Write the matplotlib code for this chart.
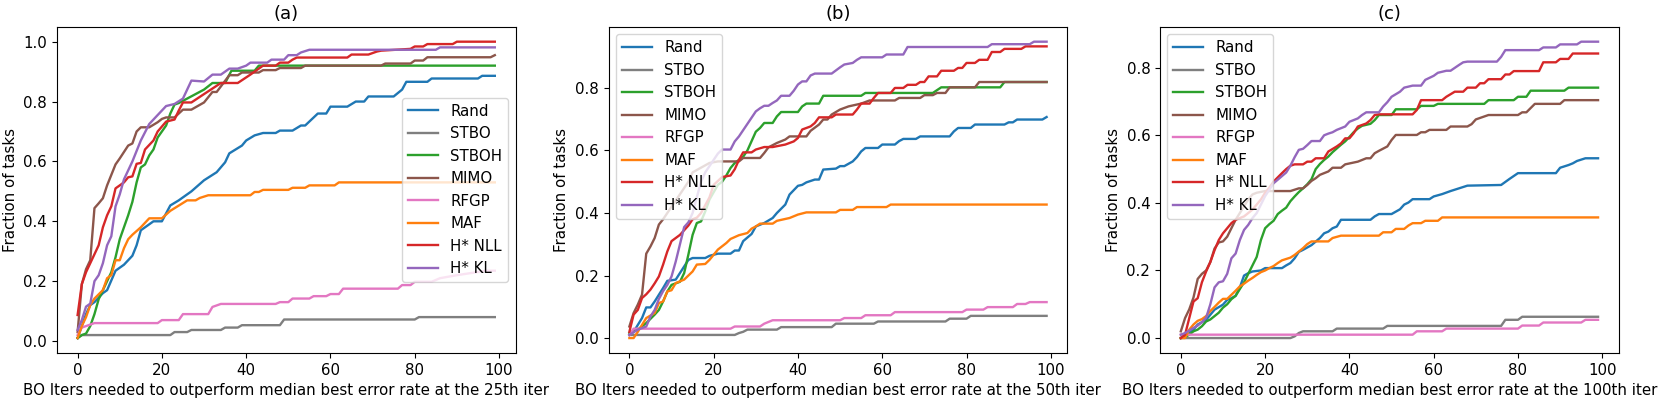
import matplotlib
matplotlib.use("Agg")
import matplotlib.pyplot as plt

plt.rcParams["font.size"] = 10.8

methods = ["Rand", "STBO", "STBOH", "MIMO", "RFGP", "MAF", "H* NLL", "H* KL"]
colors = ["tab:blue", "tab:gray", "tab:green", "tab:brown", "tab:pink",
          "tab:orange", "tab:red", "tab:purple"]
titles = ["(a)", "(b)", "(c)"]
xlabels = ["BO Iters needed to outperform median best error rate at the 25th iter",
           "BO Iters needed to outperform median best error rate at the 50th iter",
           "BO Iters needed to outperform median best error rate at the 100th iter"]

# (iteration, fraction of tasks) breakpoints
# --- panel (a): 25th iter ---
a_rand = [(0, 0.01), (1, 0.05), (2, 0.09), (3, 0.12), (4, 0.13), (6, 0.16), (7, 0.17), (9, 0.235),
          (11, 0.255), (12, 0.27), (13, 0.285), (14, 0.32), (15, 0.37), (17, 0.39), (18, 0.40),
          (20, 0.40), (22, 0.453), (24, 0.47), (27, 0.50), (30, 0.537), (33, 0.564), (35, 0.597),
          (36, 0.627), (39, 0.653), (40, 0.67), (42, 0.687), (44, 0.695), (47, 0.695), (48, 0.703),
          (51, 0.703), (53, 0.72), (54, 0.72), (57, 0.76), (59, 0.76), (60, 0.783), (64, 0.783),
          (66, 0.80), (68, 0.80), (69, 0.817), (75, 0.817), (77, 0.84), (78, 0.866), (83, 0.866),
          (84, 0.877), (95, 0.877), (96, 0.886), (99, 0.886)]
a_stbo = [(0, 0.01), (1, 0.02), (22, 0.02), (23, 0.03), (26, 0.03), (27, 0.037), (34, 0.037),
          (35, 0.045), (38, 0.045), (39, 0.053), (48, 0.053), (49, 0.072), (80, 0.072), (81, 0.08),
          (99, 0.08)]
a_stboh = [(0, 0.01), (1, 0.02), (2, 0.025), (3, 0.05), (4, 0.09), (5, 0.14), (6, 0.17), (7, 0.20),
           (8, 0.23), (9, 0.28), (10, 0.34), (11, 0.38), (12, 0.42), (13, 0.465), (14, 0.53),
           (15, 0.58), (16, 0.59), (17, 0.62), (18, 0.64), (19, 0.68), (20, 0.70), (21, 0.72),
           (22, 0.76), (23, 0.79), (24, 0.795), (26, 0.81), (28, 0.825), (30, 0.84), (32, 0.862),
           (35, 0.862), (36.5, 0.903), (42, 0.903), (43, 0.92), (99, 0.92)]
a_mimo = [(0, 0.03), (1, 0.19), (2, 0.24), (3, 0.27), (4, 0.444), (5, 0.46), (6, 0.477), (7, 0.52),
          (9, 0.59), (10, 0.61), (12, 0.653), (13, 0.66), (14, 0.70), (15, 0.714), (17, 0.714),
          (19, 0.731), (20, 0.742), (21, 0.747), (23, 0.747), (25, 0.773), (27, 0.773), (30, 0.797),
          (32, 0.832), (33, 0.832), (36, 0.888), (38, 0.888), (39, 0.897), (43, 0.897), (44, 0.905),
          (47, 0.905), (48, 0.912), (53, 0.912), (54, 0.92), (72, 0.92), (73, 0.927), (79, 0.927),
          (80, 0.937), (82, 0.937), (83, 0.948), (98, 0.948), (99, 0.955)]
a_rfgp = [(0, 0.02), (1, 0.045), (2, 0.05), (3, 0.055), (4, 0.06), (19, 0.06), (20, 0.07), (24, 0.07),
          (25, 0.09), (31, 0.09), (32, 0.114), (34, 0.124), (47, 0.124), (48, 0.13), (50, 0.13),
          (51, 0.142), (55, 0.142), (56, 0.15), (59, 0.15), (60, 0.157), (62, 0.157), (63, 0.175),
          (76, 0.175), (77, 0.187), (79, 0.187), (80, 0.198), (84, 0.198), (86, 0.21), (90, 0.22),
          (97, 0.235), (99, 0.235)]
a_maf = [(0, 0.01), (1, 0.05), (2, 0.08), (3, 0.12), (4, 0.142), (6, 0.17), (7, 0.21), (8, 0.22),
         (9, 0.27), (10, 0.27), (11, 0.31), (12, 0.34), (13, 0.355), (15, 0.38), (17, 0.41),
         (20, 0.41), (22, 0.435), (26, 0.47), (28, 0.47), (29, 0.478), (31, 0.487), (41, 0.487),
         (42, 0.498), (43, 0.498), (44, 0.505), (50, 0.505), (51, 0.512), (54, 0.512), (55, 0.52),
         (61, 0.52), (62, 0.53), (99, 0.53)]
a_nll = [(0, 0.087), (1, 0.19), (2, 0.23), (3, 0.26), (4, 0.29), (5, 0.32), (6, 0.38), (7, 0.42),
         (8, 0.45), (9, 0.51), (11, 0.53), (12, 0.547), (13, 0.55), (14, 0.592), (15, 0.595),
         (16, 0.64), (18, 0.67), (19, 0.70), (21, 0.733), (23, 0.74), (24, 0.77), (25, 0.797),
         (27, 0.797), (30, 0.825), (34, 0.862), (38, 0.862), (41, 0.89), (42, 0.90), (44, 0.92),
         (47, 0.92), (48, 0.93), (50, 0.93), (51, 0.94), (52, 0.947), (64, 0.947), (65, 0.957),
         (69, 0.957), (71, 0.967), (72, 0.97), (79, 0.976), (80, 0.984), (82, 0.984), (83, 0.992),
         (89, 0.992), (90, 1.0), (99, 1.0)]
a_kl = [(0, 0.037), (1, 0.07), (2, 0.115), (3, 0.125), (4, 0.2), (5, 0.22), (6, 0.26), (7, 0.32),
        (8, 0.35), (9, 0.45), (10, 0.49), (11, 0.54), (13, 0.60), (15, 0.67), (17, 0.725),
        (19, 0.755), (21, 0.785), (23, 0.792), (25, 0.81), (26, 0.84), (27, 0.87), (30, 0.867),
        (32, 0.89), (34, 0.89), (36, 0.91), (38, 0.91), (40, 0.92), (41, 0.93), (45, 0.93),
        (46, 0.94), (49, 0.94), (50, 0.955), (52, 0.955), (53, 0.964), (55, 0.973), (85, 0.973),
        (86, 0.981), (99, 0.981)]

# --- panel (b): 50th iter ---
b_rand = [(0, 0.01), (1, 0.02), (3, 0.064), (4, 0.098), (5, 0.098), (6, 0.117), (8, 0.16), (9, 0.183),
          (11, 0.187), (12, 0.208), (14, 0.25), (15, 0.256), (18, 0.256), (19, 0.263), (21, 0.27),
          (24, 0.27), (25, 0.28), (26, 0.28), (27, 0.31), (29, 0.333), (30, 0.357), (32, 0.368),
          (34, 0.384), (35, 0.40), (37, 0.427), (38, 0.459), (40, 0.487), (41, 0.49), (42, 0.498),
          (44, 0.507), (45, 0.507), (46, 0.539), (49, 0.542), (50, 0.55), (51, 0.55), (53, 0.565),
          (54, 0.579), (55, 0.597), (56, 0.608), (59, 0.608), (60, 0.619), (63, 0.619), (64, 0.63),
          (65, 0.637), (68, 0.637), (69, 0.645), (76, 0.645), (77, 0.661), (78, 0.672), (81, 0.672),
          (82, 0.683), (89, 0.683), (90, 0.69), (91, 0.69), (92, 0.699), (98, 0.699), (99, 0.707)]
b_stbo = [(0, 0.01), (25, 0.01), (26, 0.016), (27, 0.02), (28, 0.027), (35, 0.027), (36, 0.035),
          (48, 0.035), (49, 0.046), (58, 0.046), (59, 0.053), (75, 0.053), (76, 0.062), (80, 0.062),
          (81, 0.071), (99, 0.071)]
b_stboh = [(0, 0.016), (2, 0.027), (4, 0.048), (6, 0.075), (7, 0.09), (8, 0.117), (9, 0.149),
           (10, 0.17), (12, 0.18), (13, 0.208), (14, 0.267), (15, 0.33), (16, 0.368), (17, 0.373),
           (18, 0.405), (19, 0.443), (21, 0.49), (22, 0.50), (23, 0.52), (24, 0.544), (25, 0.56),
           (26, 0.57), (27, 0.58), (28, 0.60), (29, 0.63), (30, 0.66), (31, 0.672), (32, 0.688),
           (34, 0.688), (35, 0.709), (36, 0.723), (40, 0.723), (41, 0.741), (42, 0.75), (45, 0.75),
           (46, 0.775), (55, 0.775), (56, 0.784), (72, 0.784), (74, 0.802), (88, 0.802), (89, 0.819),
           (99, 0.819)]
b_mimo = [(0, 0.037), (1, 0.08), (2, 0.107), (3, 0.139), (4, 0.27), (5, 0.293), (6, 0.32), (7, 0.363),
          (8, 0.38), (9, 0.40), (10, 0.42), (12, 0.46), (14, 0.50), (15, 0.53), (17, 0.545), (19, 0.56),
          (21, 0.565), (26, 0.565), (27, 0.576), (31, 0.576), (32, 0.592), (33, 0.61), (35, 0.624),
          (37, 0.635), (38, 0.645), (42, 0.645), (43, 0.663), (45, 0.683), (46, 0.699), (47, 0.699),
          (48, 0.715), (50, 0.731), (52, 0.741), (55, 0.75), (57, 0.76), (63, 0.76), (64, 0.768),
          (69, 0.768), (70, 0.777), (72, 0.777), (73, 0.784), (75, 0.784), (76, 0.802), (82, 0.802),
          (83, 0.819), (99, 0.819)]
b_rfgp = [(0, 0.01), (1, 0.03), (24, 0.03), (25, 0.037), (31, 0.037), (32, 0.046), (34, 0.057),
          (50, 0.057), (51, 0.064), (55, 0.064), (56, 0.073), (62, 0.073), (63, 0.083), (79, 0.083),
          (80, 0.091), (84, 0.091), (85, 0.099), (91, 0.099), (92, 0.109), (94, 0.109), (95, 0.115),
          (99, 0.115)]
b_maf = [(0, 0.0), (1, 0.0), (2, 0.02), (4, 0.064), (5, 0.072), (6, 0.08), (7, 0.112), (8, 0.117),
         (9, 0.149), (10, 0.153), (11, 0.176), (13, 0.187), (15, 0.213), (16, 0.235), (18, 0.237),
         (19, 0.25), (21, 0.283), (23, 0.304), (24, 0.317), (26, 0.329), (28, 0.336), (29, 0.35),
         (30, 0.357), (31, 0.366), (34, 0.366), (35, 0.375), (38, 0.384), (40, 0.395), (42, 0.402),
         (49, 0.402), (50, 0.41), (53, 0.41), (54, 0.419), (61, 0.419), (62, 0.427), (99, 0.427)]
b_nll = [(0, 0.02), (1, 0.075), (2, 0.09), (3, 0.128), (4, 0.14), (5, 0.155), (6, 0.175), (7, 0.197),
         (8, 0.235), (9, 0.277), (10, 0.31), (11, 0.32), (12, 0.33), (13, 0.345), (14, 0.36),
         (15, 0.38), (16, 0.385), (17, 0.40), (19, 0.45), (20, 0.49), (22, 0.515), (24, 0.52),
         (25, 0.54), (26, 0.57), (27, 0.594), (29, 0.594), (30, 0.603), (32, 0.611), (34, 0.611),
         (37, 0.619), (39, 0.629), (40, 0.64), (41, 0.667), (43, 0.677), (44, 0.688), (45, 0.706),
         (48, 0.706), (49, 0.715), (53, 0.715), (54, 0.731), (55, 0.75), (57, 0.75), (58, 0.768),
         (59, 0.784), (62, 0.784), (63, 0.80), (65, 0.80), (66, 0.81), (68, 0.81), (69, 0.819),
         (70, 0.819), (71, 0.837), (73, 0.837), (74, 0.855), (77, 0.855), (78, 0.864), (79, 0.864),
         (80, 0.88), (82, 0.88), (83, 0.89), (85, 0.89), (86, 0.915), (88, 0.915), (89, 0.925),
         (93, 0.925), (94, 0.933), (99, 0.933)]
b_kl = [(0, 0.01), (2, 0.027), (4, 0.037), (5, 0.069), (6, 0.09), (7, 0.125), (8, 0.15), (9, 0.17),
        (10, 0.197), (11, 0.245), (12, 0.30), (13, 0.355), (14, 0.37), (15, 0.40), (16, 0.45),
        (17, 0.50), (18, 0.53), (19, 0.55), (20, 0.57), (21, 0.59), (22, 0.603), (24, 0.603),
        (25, 0.629), (26, 0.645), (27, 0.665), (28, 0.685), (29, 0.705), (30, 0.725), (31, 0.735),
        (32, 0.743), (33, 0.743), (34, 0.752), (35, 0.76), (36, 0.775), (38, 0.775), (39, 0.791),
        (40, 0.811), (41, 0.821), (42, 0.821), (43, 0.84), (44, 0.846), (48, 0.846), (50, 0.866),
        (51, 0.875), (53, 0.88), (54, 0.89), (55, 0.898), (60, 0.898), (61, 0.907), (65, 0.907),
        (66, 0.931), (85, 0.931), (86, 0.94), (95, 0.94), (96, 0.948), (99, 0.948)]

# --- panel (c): 100th iter ---
c_rand = [(0, 0.0), (1, 0.01), (3, 0.025), (4, 0.04), (6, 0.054), (7, 0.069), (8, 0.084), (10, 0.099),
          (11, 0.113), (12, 0.118), (13, 0.125), (14, 0.15), (15, 0.185), (16, 0.192), (17, 0.197),
          (19, 0.2), (20, 0.207), (24, 0.207), (25, 0.215), (26, 0.222), (27, 0.236), (28, 0.255),
          (29, 0.261), (30, 0.268), (31, 0.275), (33, 0.296), (34, 0.31), (35, 0.315), (36, 0.325),
          (37, 0.33), (38, 0.35), (45, 0.35), (46, 0.36), (47, 0.367), (50, 0.367), (51, 0.374),
          (52, 0.381), (53, 0.395), (54, 0.401), (55, 0.411), (59, 0.411), (60, 0.419), (62, 0.426),
          (64, 0.435), (66, 0.443), (68, 0.451), (76, 0.453), (78, 0.471), (80, 0.488), (89, 0.488),
          (90, 0.504), (92, 0.512), (93, 0.517), (94, 0.524), (96, 0.532), (99, 0.532)]
c_stbo = [(0, 0.0), (26, 0.0), (27, 0.005), (28, 0.015), (29, 0.02), (36, 0.02), (37, 0.028),
          (48, 0.028), (49, 0.036), (76, 0.036), (77, 0.054), (80, 0.054), (81, 0.063), (99, 0.063)]
c_stboh = [(0, 0.0), (1, 0.003), (2, 0.01), (3, 0.02), (4, 0.025), (5, 0.035), (6, 0.049), (7, 0.055),
           (8, 0.065), (9, 0.075), (10, 0.09), (11, 0.1), (12, 0.115), (13, 0.125), (14, 0.145),
           (15, 0.165), (16, 0.19), (17, 0.215), (18, 0.24), (19, 0.29), (20, 0.325), (21, 0.337),
           (22, 0.347), (23, 0.367), (24, 0.377), (25, 0.386), (26, 0.405), (27, 0.419), (28, 0.432),
           (29, 0.443), (30, 0.455), (31, 0.47), (32, 0.50), (33, 0.515), (34, 0.527), (35, 0.537),
           (36, 0.55), (37, 0.561), (38, 0.572), (39, 0.582), (40, 0.595), (41, 0.609), (42, 0.62),
           (43, 0.628), (45, 0.634), (46, 0.645), (47, 0.66), (50, 0.66), (51, 0.677), (56, 0.677),
           (57, 0.687), (60, 0.687), (61, 0.693), (72, 0.693), (73, 0.704), (79, 0.704), (80, 0.714),
           (82, 0.714), (83, 0.732), (91, 0.732), (92, 0.741), (99, 0.741)]
c_mimo = [(0, 0.02), (1, 0.059), (2, 0.085), (3, 0.12), (4, 0.175), (5, 0.19), (6, 0.2), (7, 0.225),
          (8, 0.265), (9, 0.283), (10, 0.286), (11, 0.3), (12, 0.325), (13, 0.35), (14, 0.37),
          (15, 0.39), (16, 0.41), (17, 0.425), (18, 0.43), (20, 0.435), (26, 0.435), (28, 0.443),
          (29, 0.443), (30, 0.453), (31, 0.465), (32, 0.473), (33, 0.483), (35, 0.493), (36, 0.504),
          (38, 0.504), (39, 0.514), (42, 0.522), (44, 0.532), (45, 0.532), (46, 0.547), (47, 0.554),
          (49, 0.567), (50, 0.586), (51, 0.601), (56, 0.601), (57, 0.609), (58, 0.609), (59, 0.616),
          (63, 0.616), (64, 0.626), (68, 0.626), (69, 0.633), (70, 0.647), (73, 0.66), (80, 0.66),
          (81, 0.668), (82, 0.668), (84, 0.693), (90, 0.693), (91, 0.704), (99, 0.704)]
c_rfgp = [(0, 0.01), (55, 0.01), (56, 0.02), (62, 0.02), (63, 0.028), (80, 0.028), (81, 0.037),
          (85, 0.037), (86, 0.046), (95, 0.046), (96, 0.054), (99, 0.054)]
c_maf = [(0, 0.0), (1, 0.0), (2, 0.025), (3, 0.04), (4, 0.051), (5, 0.056), (6, 0.065), (7, 0.08),
         (8, 0.092), (9, 0.105), (10, 0.116), (11, 0.116), (13, 0.14), (14, 0.153), (15, 0.161),
         (16, 0.17), (17, 0.178), (18, 0.187), (19, 0.195), (20, 0.2), (21, 0.207), (22, 0.213),
         (23, 0.222), (24, 0.23), (26, 0.238), (27, 0.246), (28, 0.256), (29, 0.266), (30, 0.278),
         (31, 0.286), (35, 0.286), (36, 0.296), (38, 0.303), (47, 0.303), (48, 0.313), (50, 0.313),
         (51, 0.323), (53, 0.323), (54, 0.333), (55, 0.34), (57, 0.34), (58, 0.347), (61, 0.347),
         (62, 0.357), (99, 0.357)]
c_nll = [(0, 0.0), (1, 0.01), (2, 0.059), (3, 0.108), (4, 0.118), (5, 0.165), (6, 0.197), (7, 0.225),
         (8, 0.26), (9, 0.29), (10, 0.31), (11, 0.325), (12, 0.34), (13, 0.35), (15, 0.36), (17, 0.38),
         (19, 0.41), (20, 0.43), (21, 0.445), (22, 0.463), (24, 0.488), (25, 0.50), (26, 0.51),
         (27, 0.514), (29, 0.514), (30, 0.522), (31, 0.522), (32, 0.532), (34, 0.532), (35, 0.552),
         (37, 0.567), (38, 0.576), (39, 0.591), (40, 0.591), (41, 0.606), (42, 0.626), (44, 0.635),
         (45, 0.645), (46, 0.66), (47, 0.662), (55, 0.662), (56, 0.675), (57, 0.704), (62, 0.704),
         (63, 0.714), (65, 0.729), (67, 0.729), (68, 0.741), (70, 0.741), (71, 0.754), (72, 0.754),
         (73, 0.766), (76, 0.766), (77, 0.78), (78, 0.78), (79, 0.79), (85, 0.79), (86, 0.816),
         (89, 0.816), (90, 0.826), (92, 0.826), (93, 0.842), (99, 0.842)]
c_kl = [(0, 0.01), (1, 0.015), (2, 0.022), (3, 0.03), (4, 0.037), (5, 0.047), (6, 0.06), (7, 0.1),
        (8, 0.15), (9, 0.165), (10, 0.168), (11, 0.19), (12, 0.236), (13, 0.25), (14, 0.29),
        (15, 0.32), (16, 0.335), (17, 0.355), (18, 0.37), (20, 0.42), (22, 0.458), (25, 0.49),
        (26, 0.51), (27, 0.535), (28, 0.557), (29, 0.56), (30, 0.571), (31, 0.583), (33, 0.583),
        (34, 0.6), (35, 0.605), (36, 0.609), (37, 0.616), (39, 0.626), (40, 0.64), (41, 0.645),
        (42, 0.65), (43, 0.66), (44, 0.668), (47, 0.668), (48, 0.685), (49, 0.698), (50, 0.714),
        (52, 0.729), (53, 0.741), (55, 0.747), (57, 0.747), (58, 0.764), (60, 0.776), (61, 0.785),
        (63, 0.791), (64, 0.791), (66, 0.808), (67, 0.816), (68, 0.818), (75, 0.818), (76, 0.832),
        (77, 0.852), (85, 0.852), (86, 0.86), (89, 0.86), (90, 0.869), (94, 0.869), (95, 0.877),
        (99, 0.877)]

panels = [
    [a_rand, a_stbo, a_stboh, a_mimo, a_rfgp, a_maf, a_nll, a_kl],
    [b_rand, b_stbo, b_stboh, b_mimo, b_rfgp, b_maf, b_nll, b_kl],
    [c_rand, c_stbo, c_stboh, c_mimo, c_rfgp, c_maf, c_nll, c_kl],
]
legend_locs = ["center right", "upper left", "upper left"]

fig = plt.figure(figsize=(16.64, 4.01), dpi=100)
lefts = [0.0341, 0.3657, 0.6971]
for i, curves in enumerate(panels):
    ax = fig.add_axes([lefts[i], 0.12, 0.2758, 0.813])
    for name, col, pts in zip(methods, colors, curves):
        xs = [p[0] for p in pts]
        ys = [p[1] for p in pts]
        ax.plot(xs, ys, color=col, lw=1.7, label=name)
    ax.set_title(titles[i])
    ax.set_xlabel(xlabels[i])
    ax.set_ylabel("Fraction of tasks")
    ax.legend(loc=legend_locs[i])

fig.savefig("out.png", dpi=100)
